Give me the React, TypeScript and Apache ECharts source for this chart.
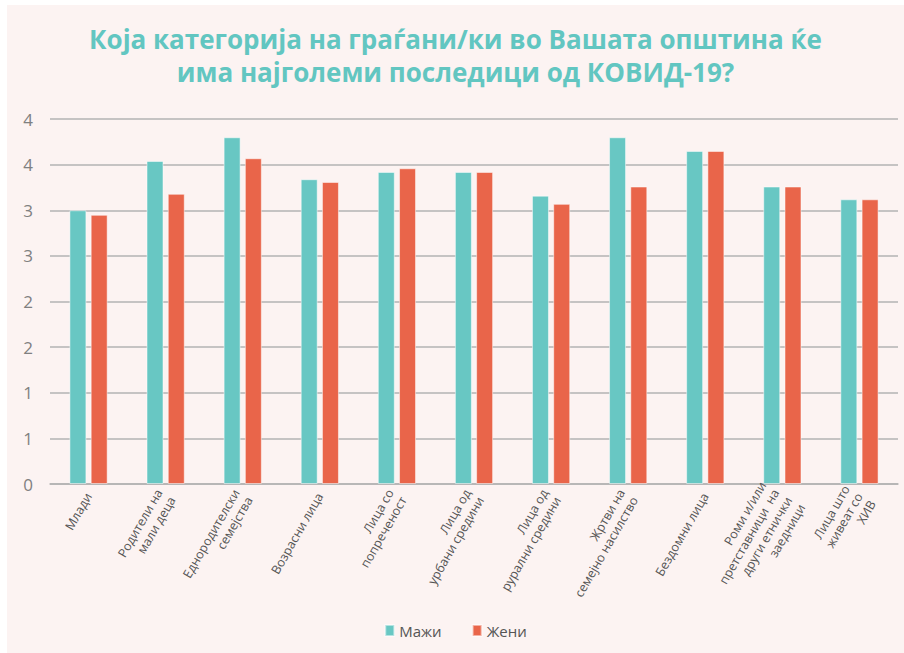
import React, { useEffect, useRef } from "react";
import * as echarts from "echarts";

const categories = [
  "Млади",
  "Родители на\nмали деца",
  "Еднородителски\nсемејства",
  "Возрасни лица",
  "Лица со\nпопреченост",
  "Лица од\nурбани средини",
  "Лица од\nрурални средини",
  "Жртви на\nсемејно насилство",
  "Бездомни лица",
  "Роми и/или\nпретставници  на\nдруги етнички\nзаедници",
  "Лица што\nживеат со\nХИВ",
];

const maleValues = [3.0, 3.54, 3.8, 3.34, 3.42, 3.42, 3.16, 3.8, 3.65, 3.26, 3.12];
const femaleValues = [2.95, 3.18, 3.57, 3.31, 3.46, 3.42, 3.07, 3.26, 3.65, 3.26, 3.12];

const yTickLabels = ["0", "1", "1", "2", "2", "3", "3", "4", "4"];

const seriesNames = ["Мажи", "Жени"];
const titleLines = [
  "Која категорија на граѓани/ки во Вашата општина ќе",
  "има најголеми последици од КОВИД-19?",
];

export default function App() {
  const ref = useRef<HTMLDivElement>(null);

  useEffect(() => {
    if (!ref.current) return;
    const chart = echarts.init(ref.current, undefined, { renderer: "svg" });
    const titleStyle = {
      color: "#62C6C1",
      fontSize: 26,
      fontWeight: "bold",
      fontFamily: "Open Sans",
    };
    chart.setOption({
      animation: false,
      backgroundColor: "#FCF3F2",
      title: titleLines.map((t, i) => ({
        text: t,
        left: "center",
        top: 16 + i * 33,
        textStyle: titleStyle,
      })),
      legend: {
        data: seriesNames,
        bottom: 10,
        left: "center",
        icon: "rect",
        itemWidth: 9,
        itemHeight: 11,
        itemGap: 30,
        textStyle: { color: "#555", fontSize: 15, fontFamily: "Open Sans" },
      },
      grid: { left: 43, right: 6, top: 114, bottom: 169 },
      xAxis: {
        type: "category",
        data: categories,
        axisLine: { lineStyle: { color: "#b3b3b3", width: 1.5 } },
        axisTick: { show: false },
        axisLabel: {
          rotate: 60,
          interval: 0,
          color: "#555",
          fontSize: 12.5,
          fontFamily: "Open Sans",
          margin: 10,
          lineHeight: 15,
        },
      },
      yAxis: {
        type: "value",
        min: 0,
        max: 4,
        interval: 0.5,
        axisLine: { show: false },
        axisTick: { show: false },
        splitLine: { lineStyle: { color: "#b3b3b3", width: 1.5 } },
        axisLabel: {
          color: "#808080",
          fontSize: 17,
          fontFamily: "Open Sans",
          margin: 17,
          formatter: (v: number) => yTickLabels[Math.round(v / 0.5)] ?? "",
        },
      },
      series: [
        {
          name: seriesNames[0],
          type: "bar",
          data: maleValues,
          barWidth: 17,
          barGap: "25%",
          itemStyle: { color: "#68C7C3", borderColor: "rgba(255,255,255,0.5)", borderWidth: 1 },
        },
        {
          name: seriesNames[1],
          type: "bar",
          data: femaleValues,
          barWidth: 17,
          itemStyle: { color: "#E9654A", borderColor: "rgba(255,255,255,0.5)", borderWidth: 1 },
        },
      ],
    });
    return () => chart.dispose();
  }, []);

  return (
    <div style={{ position: "fixed", left: 0, top: 0, width: 904, height: 653, background: "#fff" }}>
      <div ref={ref} style={{ position: "absolute", left: 7, top: 5, width: 897, height: 648 }} />
    </div>
  );
}
